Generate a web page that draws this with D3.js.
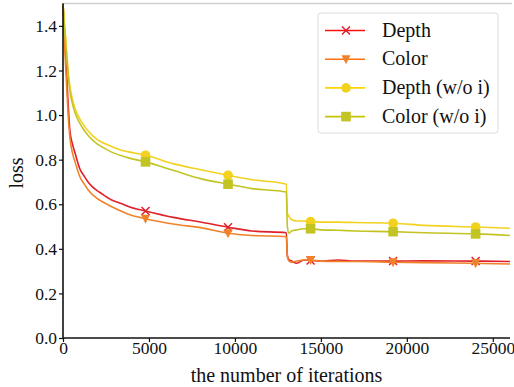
<!DOCTYPE html>
<html>
<head>
<meta charset="utf-8">
<script src="https://cdn.jsdelivr.net/npm/d3@7"></script>
</head>
<body style="margin:0;background:#fff">
<div id="chart"></div>
<script>
// iterations sampled along the curves
var iters = [0, 100, 200, 300, 400, 550, 700, 1000, 1200, 1500, 2000, 2100, 2800, 3500, 3800, 4800,
             6500, 8000, 9600, 11000, 12990, 13050, 13150, 13300, 13600, 14000, 14400, 15000,
             16000, 17000, 19200, 21000, 24000, 26000];

var depth = [1.5, 1.35, 1.2, 1.05, 0.93, 0.87, 0.83, 0.755, 0.73, 0.695, 0.66, 0.655, 0.62, 0.60, 0.59, 0.57,
             0.54, 0.52, 0.497, 0.48, 0.472, 0.37, 0.35, 0.345, 0.335, 0.35, 0.348, 0.345,
             0.35, 0.345, 0.345, 0.346, 0.345, 0.343];
var color = [1.5, 1.3, 1.15, 1.0, 0.9, 0.83, 0.79, 0.72, 0.695, 0.66, 0.625, 0.62, 0.59, 0.565, 0.555, 0.535,
             0.51, 0.495, 0.47, 0.46, 0.455, 0.365, 0.345, 0.34, 0.345, 0.35, 0.35, 0.345,
             0.343, 0.343, 0.34, 0.338, 0.335, 0.332];
var depthNoI = [1.5, 1.4, 1.3, 1.2, 1.13, 1.07, 1.03, 0.98, 0.955, 0.925, 0.89, 0.885, 0.86, 0.84, 0.835, 0.82,
                0.78, 0.755, 0.73, 0.71, 0.69, 0.56, 0.545, 0.53, 0.525, 0.525, 0.522, 0.52,
                0.52, 0.518, 0.515, 0.505, 0.498, 0.492];
var colorNoI = [1.5, 1.38, 1.28, 1.18, 1.11, 1.05, 1.01, 0.96, 0.935, 0.905, 0.87, 0.865, 0.835, 0.815, 0.808, 0.79,
                0.75, 0.715, 0.69, 0.67, 0.655, 0.5, 0.47, 0.48, 0.485, 0.49, 0.49, 0.485,
                0.483, 0.48, 0.477, 0.472, 0.467, 0.46];

var markerIters = [4800, 9600, 14400, 19200, 24000];
var labels = ['Depth', 'Color', 'Depth (w/o i)', 'Color (w/o i)'];
var xTicks = [0, 5000, 10000, 15000, 20000, 25000];
var yTicks = [0.0, 0.2, 0.4, 0.6, 0.8, 1.0, 1.2, 1.4];

var FONT = 'Liberation Serif';

var series = [
  {name: labels[0], values: depth,    stroke: '#e0202a', legend: '#ff1010', marker: 'x'},
  {name: labels[1], values: color,    stroke: '#f0822a', legend: '#ff7010', marker: 'v'},
  {name: labels[2], values: depthNoI, stroke: '#f2d21e', legend: '#ffd400', marker: 'o'},
  {name: labels[3], values: colorNoI, stroke: '#c2c424', legend: '#c8c400', marker: 's'}
];

var svg = d3.select('#chart').append('svg')
            .attr('width', 514)
            .attr('height', 387)
            .attr('font-family', FONT);

var x = d3.scaleLinear().domain([0, 26000]).range([63, 510]);
var y = d3.scaleLinear().domain([0, 1.5]).range([338, 3.6]);

// top spine (light)
svg.append('line')
   .attr('x1', x(0)).attr('x2', 512)
   .attr('y1', y(1.5)).attr('y2', y(1.5))
   .attr('stroke', '#d0d0d0').attr('stroke-width', 1.5);

var line = d3.line()
             .curve(d3.curveMonotoneX)
             .x(function(d) { return x(d[0]); })
             .y(function(d) { return y(d[1]); });

function drawMarker(g, type, cx, cy, col) {
  if (type === 'x') {
    g.append('path').attr('d', 'M' + (cx - 4) + ',' + (cy - 4) + 'L' + (cx + 4) + ',' + (cy + 4) +
                                'M' + (cx - 4) + ',' + (cy + 4) + 'L' + (cx + 4) + ',' + (cy - 4))
     .attr('stroke', col).attr('stroke-width', 1.5).attr('fill', 'none');
  } else if (type === 'v') {
    g.append('path').attr('d', 'M' + (cx - 4.5) + ',' + (cy - 4) + 'L' + (cx + 4.5) + ',' + (cy - 4) +
                                'L' + cx + ',' + (cy + 5) + 'Z')
     .attr('fill', col);
  } else if (type === 'o') {
    g.append('circle').attr('cx', cx).attr('cy', cy).attr('r', 4.8).attr('fill', col);
  } else {
    g.append('rect').attr('x', cx - 4.8).attr('y', cy - 4.8).attr('width', 9.6).attr('height', 9.6).attr('fill', col);
  }
}

series.forEach(function(s) {
  var pts = iters.map(function(it, i) { return [it, s.values[i]]; });
  svg.append('path')
     .attr('d', line(pts))
     .attr('fill', 'none')
     .attr('stroke', s.stroke)
     .attr('stroke-width', 1.6)
     .attr('stroke-linejoin', 'round');
  var g = svg.append('g');
  pts.filter(function(p) { return markerIters.indexOf(p[0]) >= 0; })
     .forEach(function(p) { drawMarker(g, s.marker, x(p[0]), y(p[1]), s.stroke); });
});

// axes
var xAxis = svg.append('g')
               .attr('transform', 'translate(0,338)')
               .call(d3.axisBottom(x).tickValues(xTicks).tickSize(4).tickFormat(d3.format('d')));
var yAxis = svg.append('g')
               .attr('transform', 'translate(63,0)')
               .call(d3.axisLeft(y).tickValues(yTicks).tickSize(4).tickFormat(d3.format('.1f')));

[xAxis, yAxis].forEach(function(a) {
  a.attr('font-family', FONT).attr('font-size', 17.5);
  a.select('.domain').attr('stroke', '#111').attr('stroke-width', 1.6);
  a.selectAll('.tick line').attr('stroke', '#111').attr('stroke-width', 1.2);
  a.selectAll('.tick text').attr('fill', '#111');
});
xAxis.select('.domain').attr('d', 'M63,0H510');
yAxis.select('.domain').attr('d', 'M0,' + y(1.5) + 'V338');
xAxis.selectAll('.tick text').attr('dy', '0.62em').attr('y', 5);
yAxis.selectAll('.tick text').attr('x', -6);

svg.append('text')
   .attr('x', x(13000)).attr('y', 382)
   .attr('text-anchor', 'middle')
   .attr('font-size', 20).attr('fill', '#111')
   .text('the number of iterations');

svg.append('text')
   .attr('transform', 'translate(23,' + y(0.74) + ') rotate(-90)')
   .attr('text-anchor', 'middle')
   .attr('font-size', 20).attr('fill', '#111')
   .text('loss');

// legend
var lg = svg.append('g');
lg.append('rect')
  .attr('x', 318).attr('y', 13).attr('width', 180).attr('height', 120)
  .attr('rx', 3).attr('fill', '#fff').attr('stroke', '#dcdcdc').attr('stroke-width', 1);

series.forEach(function(s, i) {
  var ly = 30.5 + i * 28.7;
  lg.append('line').attr('x1', 325).attr('x2', 365).attr('y1', ly).attr('y2', ly)
    .attr('stroke', s.legend).attr('stroke-width', 1.6);
  drawMarker(lg, s.marker, 346, ly, s.stroke);
  lg.append('text').attr('x', 382).attr('y', ly + 6)
    .attr('font-size', 20).attr('fill', '#111')
    .text(s.name);
});
</script>
</body>
</html>
